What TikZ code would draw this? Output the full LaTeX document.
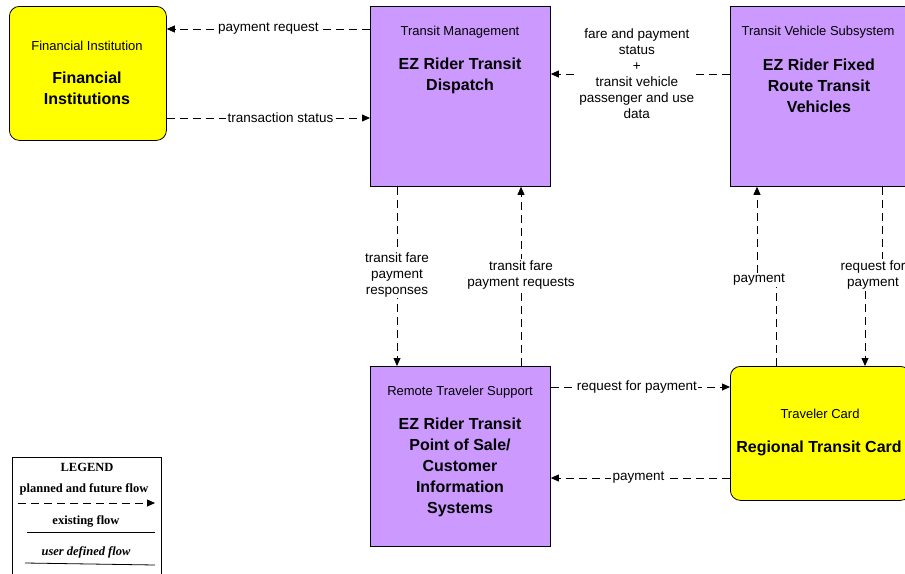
\documentclass[tikz,border=0pt]{standalone}
\usepackage{fontspec}
\setmainfont{Liberation Sans}
\newfontfamily\legfont{Liberation Serif}
\usetikzlibrary{arrows.meta}
\definecolor{tmpurple}{RGB}{204,153,255}
\definecolor{cardyellow}{RGB}{255,255,0}
\begin{document}
\begin{tikzpicture}[x=1pt,y=-1pt,
  sysbox/.style={draw=black, line width=0.8pt, fill=tmpurple, inner sep=0pt, anchor=north west},
  termbox/.style={draw=black, line width=0.8pt, fill=cardyellow, rounded corners=10pt, inner sep=0pt, anchor=north west},
  legbox/.style={draw=black, line width=1pt, fill=white, inner sep=0pt, anchor=north west},
  titletext/.style={font=\fontsize{13}{15}\selectfont, inner sep=0pt},
  nametext/.style={font=\fontsize{16}{21}\selectfont\bfseries, align=center, inner sep=0pt},
  flowplain/.style={draw=black, line width=0.8pt, dash pattern=on 8pt off 5pt},
  flow/.style={flowplain, -{Triangle[length=8pt,width=7pt]}},
  lbl/.style={font=\fontsize{13.5}{16}\selectfont, fill=white, align=center, inner sep=1.5pt},
  legtext/.style={font=\legfont\fontsize{12.5}{14}\selectfont\bfseries, inner sep=0pt},
]
\useasboundingbox (0,0) rectangle (905,573);

% boxes
\node[termbox, minimum width=157pt, minimum height=134pt] (fi) at (9,6) {};
\node[titletext] (fiT) at (87,46) {Financial Institution};
\node[nametext] (fiN) at (87,88.5) {Financial\\Institutions};

\node[sysbox, minimum width=180pt, minimum height=180pt] (tm) at (370,6) {};
\node[titletext] (tmT) at (460,32) {Transit Management};
\node[nametext] (tmN) at (460,75.5) {EZ Rider Transit\\Dispatch};

\node[sysbox, minimum width=180pt, minimum height=180pt] (tvs) at (730,6) {};
\node[titletext] (tvsT) at (818,32) {Transit Vehicle Subsystem};
\node[nametext] (tvsN) at (819,86) {EZ Rider Fixed\\Route Transit\\Vehicles};

\node[sysbox, minimum width=180pt, minimum height=180pt] (rts) at (370,366) {};
\node[titletext] (rtsT) at (460,392) {Remote Traveler Support};
\node[nametext] (rtsN) at (460,467) {EZ Rider Transit\\Point of Sale/\\Customer\\Information\\Systems};

\node[termbox, minimum width=180pt, minimum height=134pt] (tc) at (730,366) {};
\node[titletext] (tcT) at (820,414) {Traveler Card};
\node[nametext] (tcN) at (819,448) {Regional Transit Card};

% horizontal flows
\draw[flow] ([yshift=-23pt]tm.north west) -- node[lbl] {payment request} ([yshift=-23pt]fi.north east);
\draw[flow] ([yshift=-112pt]fi.north east) -- node[lbl, pos=0.56] {transaction status} ([yshift=-112pt]tm.north west);
\draw[flow] ([yshift=-68pt]tvs.north west) -- node[lbl, pos=0.52] {fare and payment\\status\\+\\transit vehicle\\passenger and use\\data} ([yshift=-68pt]tm.north east);
\draw[flow] ([yshift=-21pt]rts.north east) -- node[lbl, pos=0.48] {request for payment} ([yshift=-21pt]tc.north west);
\draw[flow] ([yshift=-112pt]tc.north west) -- node[lbl, pos=0.51] {payment} ([yshift=-112pt]rts.north east);

% vertical flows
\draw[flow] ([xshift=27pt]tm.south west) -- node[lbl, pos=0.49] {transit fare\\payment\\responses} ([xshift=27pt]rts.north west);
\draw[flow] ([xshift=151pt]rts.north west) -- node[lbl, pos=0.51] {transit fare\\payment requests} ([xshift=151pt]tm.south west);

% jogged flows
\node[lbl] (lpay) at (759,280) {payment};
\coordinate (payB) at ([xshift=46pt]tc.north west);
\coordinate (payT) at ([xshift=27pt]tvs.south west);
\draw[flowplain] (payB) -- (payB |- lpay.south);
\draw[flow] (payT |- lpay.north) -- (payT);

\node[lbl] (lreq) at (873,275) {request for\\payment};
\coordinate (reqT) at ([xshift=152pt]tvs.south west);
\coordinate (reqB) at ([xshift=135pt]tc.north west);
\draw[flowplain] (reqT) -- (reqT |- lreq.north);
\draw[flow] (reqB |- lreq.south) -- (reqB);

% legend
\node[legbox, minimum width=149pt, minimum height=130pt] (leg) at (12,457) {};
\node[legtext] (legT) at (87,467) {LEGEND};
\node[legtext] (leg1) at (84,489) {planned and future flow};
\coordinate (l1a) at (18,503); \coordinate (l1b) at (155,503);
\draw[flow] (l1a) -- (l1b);
\node[legtext] (leg2) at (86,521) {existing flow};
\coordinate (l2a) at (27,532); \coordinate (l2b) at (155,532);
\draw[line width=0.8pt] (l2a) -- (l2b);
\node[legtext, font=\legfont\fontsize{12.5}{14}\selectfont\bfseries\itshape] (leg3) at (86,552) {user defined flow};
\coordinate (l3a) at (25,563); \coordinate (l3b) at (155,565);
\draw[line width=0.8pt] (l3a) -- (l3b);
\end{tikzpicture}
\end{document}
